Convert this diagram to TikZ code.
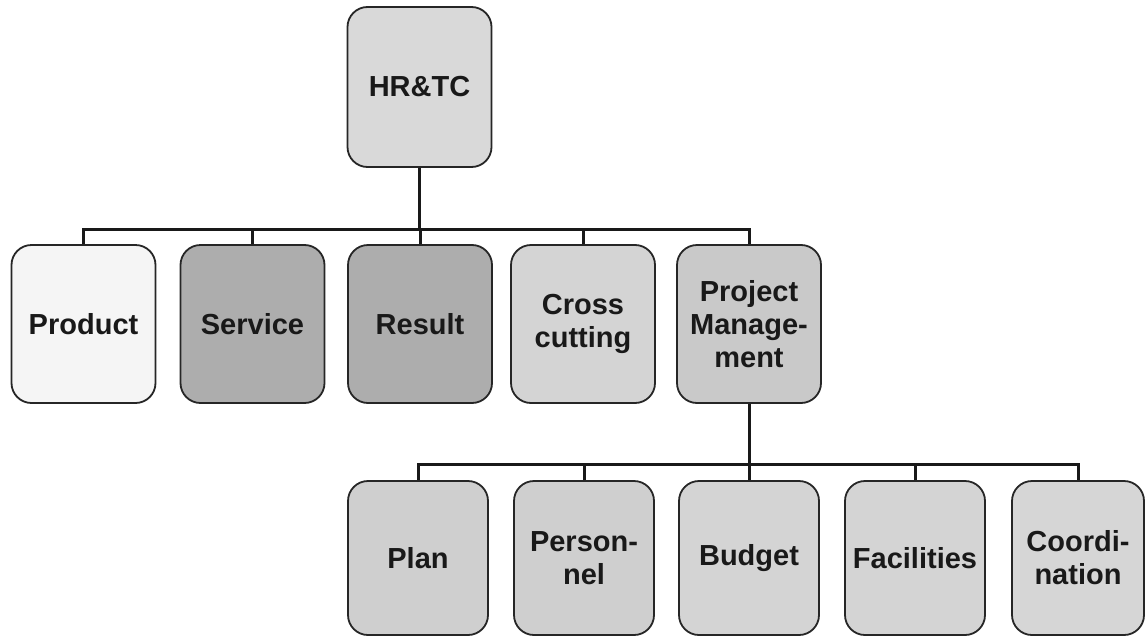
\documentclass[tikz,border=0pt]{standalone}
\usepackage{fontspec}
\setmainfont{Liberation Sans}
\begin{document}
\begin{tikzpicture}[x=1pt,y=-1pt,
  box/.style={draw=black!85, line width=1.8pt, rounded corners=20pt,
    minimum width=144pt, minimum height=158pt, inner sep=0pt, align=center,
    font=\fontsize{29}{33}\selectfont\bfseries, text=black!90},
  box2/.style={box, minimum width=140pt, minimum height=154pt},
  link/.style={line width=3pt, draw=black!90}]
\useasboundingbox (0,0) rectangle (1145,637);
\fill[white] (0,0) rectangle (1145,637);
% top
\node[box, minimum height=160pt, fill=black!15] (top) at (419.5,87) {HR\&TC};
% row 1
\node[box, fill=black!4]  (prod)  at (83.5,324) {Product};
\node[box, fill=black!32] (serv)  at (252.5,324) {Service};
\node[box, fill=black!32] (res)   at (420,324) {Result};
\node[box, fill=black!17] (cross) at (583,324) {Cross\\cutting};
\node[box, fill=black!21] (pm)    at (749,324) {Project\\Manage-\\ment};
% row 2
\node[box2, fill=black!19] (plan)  at (418,558) {Plan};
\node[box2, fill=black!19] (pers)  at (584,558) {Person-\\nel};
\node[box2, fill=black!17] (bud)   at (749,558) {Budget};
\node[box2, fill=black!17] (fac)   at (915,558) {Facilities};
\node[box2, minimum width=132pt, fill=black!16] (coord) at (1078,558) {Coordi-\\nation};
% connectors level 1
\coordinate (j1) at (419.5,229);
\draw[link] (top.south) -- (j1);
\draw[link] (prod.north) -- (prod.north |- j1) -- (pm.north |- j1) -- (pm.north);
\draw[link] (serv.north) -- (serv.north |- j1);
\draw[link] (res.north) -- (res.north |- j1);
\draw[link] (cross.north) -- (cross.north |- j1);
% connectors level 2
\coordinate (j2) at (749,464);
\draw[link] (pm.south) -- (j2);
\draw[link] (plan.north) -- (plan.north |- j2) -- (coord.north |- j2) -- (coord.north);
\draw[link] (pers.north) -- (pers.north |- j2);
\draw[link] (bud.north) -- (bud.north |- j2);
\draw[link] (fac.north) -- (fac.north |- j2);
\end{tikzpicture}
\end{document}
